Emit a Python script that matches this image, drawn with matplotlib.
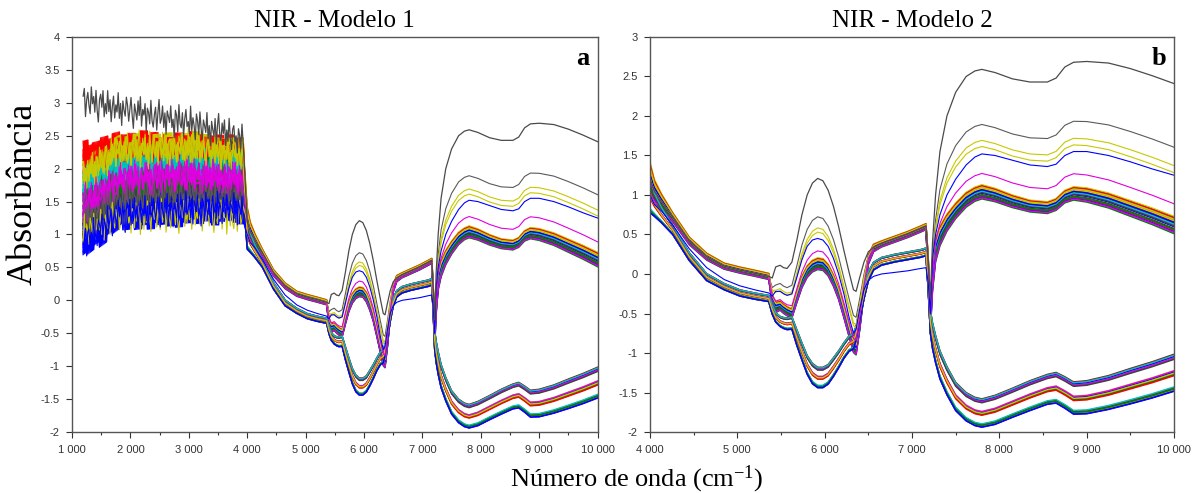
import numpy as np
import matplotlib
matplotlib.use("Agg")
import matplotlib.pyplot as plt
from matplotlib.ticker import MultipleLocator, FuncFormatter

# wavenumber grid of the smooth part (4000 - 10000 cm-1)
HI_WN = [4000, 4050, 4130, 4260, 4450, 4650, 4850, 5030, 5200, 5360,
         5400, 5440, 5490, 5530, 5570, 5625, 5680, 5740, 5800, 5860,
         5920, 5980, 6040, 6100, 6160, 6220, 6280, 6330, 6360, 6400,
         6450, 6500, 6560, 6650, 6800, 6950, 7100, 7160, 7185, 7210,
         7235, 7270, 7320, 7400, 7500, 7620, 7720, 7800, 7950, 8150,
         8350, 8550, 8650, 8750, 8850, 9000, 9250, 9500, 9750, 10000]

# upper family (centre of bundle) and its width
P_BULK = [1.20, 1.05, 0.92, 0.72, 0.42, 0.22, 0.10, 0.05, 0.01, -0.03,
          -0.32, -0.42, -0.40, -0.44, -0.47, -0.50, -0.30, -0.10, 0.03, 0.10,
          0.13, 0.12, 0.05, -0.08, -0.25, -0.48, -0.72, -0.92, -0.95, -0.65,
          -0.20, 0.18, 0.33, 0.38, 0.44, 0.50, 0.57, 0.60, 0.10, -0.55,
          -0.05, 0.30, 0.48, 0.65, 0.80, 0.94, 1.01, 1.04, 1.00, 0.92,
          0.86, 0.84, 0.88, 0.98, 1.02, 1.00, 0.93, 0.83, 0.73, 0.62]
P_SPREAD = [0.45, 0.30, 0.20, 0.12, 0.10, 0.09, 0.08, 0.08, 0.08, 0.08,
            0.12, 0.14, 0.12, 0.12, 0.12, 0.12, 0.14, 0.15, 0.15, 0.15,
            0.15, 0.15, 0.15, 0.15, 0.15, 0.15, 0.15, 0.15, 0.15, 0.15,
            0.14, 0.12, 0.10, 0.08, 0.08, 0.08, 0.08, 0.08, 0.30, 0.40,
            0.35, 0.30, 0.25, 0.22, 0.20, 0.19, 0.18, 0.18, 0.17, 0.16,
            0.15, 0.15, 0.15, 0.16, 0.17, 0.18, 0.19, 0.20, 0.21, 0.22]

# lower (inverted) family
N_BULK = [1.00, 0.88, 0.75, 0.56, 0.22, -0.04, -0.16, -0.24, -0.28, -0.31,
          -0.45, -0.55, -0.60, -0.62, -0.63, -0.62, -0.80, -0.98, -1.15, -1.26,
          -1.31, -1.31, -1.27, -1.18, -1.08, -0.97, -0.88, -0.85, -0.75, -0.52,
          -0.25, -0.03, 0.10, 0.16, 0.20, 0.23, 0.26, 0.28, -0.10, -0.60,
          -0.78, -0.95, -1.15, -1.35, -1.55, -1.68, -1.74, -1.76, -1.72, -1.63,
          -1.54, -1.46, -1.44, -1.50, -1.57, -1.56, -1.50, -1.42, -1.34, -1.25]
N_SPREAD = [0.45, 0.30, 0.20, 0.12, 0.10, 0.09, 0.08, 0.08, 0.08, 0.08,
            0.12, 0.12, 0.13, 0.14, 0.15, 0.16, 0.20, 0.22, 0.24, 0.26,
            0.26, 0.26, 0.25, 0.24, 0.22, 0.20, 0.20, 0.20, 0.18, 0.16,
            0.14, 0.12, 0.10, 0.10, 0.10, 0.10, 0.10, 0.10, 0.20, 0.30,
            0.33, 0.35, 0.36, 0.36, 0.36, 0.36, 0.36, 0.36, 0.37, 0.37,
            0.38, 0.38, 0.39, 0.40, 0.41, 0.42, 0.43, 0.45, 0.46, 0.47]

# the two lone spectra
BLACK_HI = [1.20, 1.05, 0.92, 0.72, 0.42, 0.22, 0.10, 0.05, 0.01, -0.03,
            -0.05, 0.09, 0.11, 0.08, 0.07, 0.15, 0.42, 0.75, 1.00, 1.15,
            1.21, 1.18, 1.06, 0.86, 0.60, 0.30, 0.02, -0.20, -0.22, -0.05,
            0.15, 0.28, 0.34, 0.39, 0.45, 0.51, 0.58, 0.61, 0.20, -0.30,
            0.40, 1.00, 1.55, 2.00, 2.30, 2.50, 2.57, 2.59, 2.55, 2.47,
            2.43, 2.43, 2.48, 2.62, 2.68, 2.69, 2.67, 2.60, 2.51, 2.41]
BLUE_HI = [1.00, 0.88, 0.80, 0.62, 0.32, 0.08, -0.07, -0.15, -0.20, -0.24,
           -0.28, -0.22, -0.22, -0.25, -0.27, -0.25, -0.05, 0.18, 0.35, 0.43,
           0.45, 0.43, 0.35, 0.20, 0.00, -0.25, -0.55, -0.75, -0.70, -0.45,
           -0.20, -0.08, -0.03, 0.00, 0.02, 0.04, 0.07, 0.08, -0.10, -0.50,
           0.20, 0.50, 0.75, 1.00, 1.20, 1.38, 1.48, 1.52, 1.50, 1.44,
           1.38, 1.36, 1.39, 1.50, 1.55, 1.55, 1.50, 1.42, 1.33, 1.25]

# where each bundle spectrum sits inside its bundle (-0.5 bottom, 0.5 top)
P_POS = [0.45, -0.30, 0.10, -0.45, 0.30, -0.10, 0.50, -0.20, 0.20, -0.50,
         0.38, 0.00, -0.38, 0.25, -0.05, 0.42, -0.25, 0.05, -0.42, 0.15, 0.33]
N_POS = [0.50, -0.02, -0.45, 0.42, 0.04, -0.50, 0.46, -0.06, -0.40, 0.38,
         0.00, -0.48, 0.44, 0.06, -0.42, 0.48, -0.04, -0.38, 0.40, 0.02,
         -0.46, 0.36, -0.08, -0.44, 0.47, 0.05, -0.49, -0.01]

# outliers between the bulk and the black spectrum (fraction of the way)
OUT_FRAC = [0.55, 0.42, 0.37, 0.15]
OUT_COLORS = ["#5a5a5a", "#c8c800", "#c8c800", "#e000e0"]

# colour cycle: gray, red, green, cyan, magenta, blue, yellow
COLORS = ["#404040", "#ff0000", "#008000", "#00c0c0", "#e000e0", "#0000ff", "#c8c800"]

# noisy region (1190 - 3930 cm-1), mean level per colour at anchor wavenumbers
LO_WN = np.arange(1190, 3935, 20)
LO_ANCHOR_WN = [1190, 1800, 3000, 3930]
LO_LEVELS = [[1.10, 1.50, 1.65, 1.60],
             [2.15, 2.30, 2.30, 2.25],
             [1.50, 1.80, 1.95, 2.00],
             [1.75, 2.05, 2.10, 2.05],
             [1.40, 1.80, 1.90, 1.85],
             [0.90, 1.30, 1.40, 1.40],
             [1.90, 2.25, 2.30, 2.20]]
LO_BLACK = [3.05, 2.90, 2.70, 2.45]
LO_BLUE = [0.90, 1.30, 1.40, 1.40]
LO_OUT = [[1.20, 1.55, 1.60, 1.55], [1.90, 2.30, 2.35, 2.25],
          [1.05, 1.25, 1.30, 1.25], [1.50, 1.85, 1.90, 1.85]]
NOISE_AMP = 0.28
NOISE = [0.31, -0.54, 0.12, 0.77, -0.21, -0.88, 0.45, 0.03, -0.39, 0.66, -0.12, 0.91,
         -0.67, 0.24, -0.05, 0.58, -0.93, 0.36, 0.14, -0.47, 0.82, -0.28, -0.61, 0.07,
         0.49, -0.74, 0.19, 0.95, -0.33, -0.08, 0.63, -0.52, 0.28, -0.86, 0.41, 0.11,
         -0.19, 0.72, -0.44, 0.02, -0.97, 0.53, 0.26, -0.63, 0.87, -0.15, -0.36, 0.47,
         -0.79, 0.16, 0.68, -0.24, 0.05, -0.58, 0.92, -0.41, 0.33, -0.07, -0.83, 0.59,
         0.21, -0.49, 0.76, -0.11, -0.69, 0.38, 0.09, -0.26, 0.84, -0.55, 0.17, -0.91,
         0.44, 0.01, -0.34, 0.65, -0.71, 0.29, 0.98, -0.18, -0.46, 0.52, -0.03, 0.73,
         -0.64, 0.22, -0.38, 0.89, -0.13, -0.77, 0.35, 0.57, -0.29, 0.06, -0.85, 0.48,
         0.13, -0.57, 0.79, -0.22, -0.01, 0.61, -0.95, 0.27, 0.42, -0.68, 0.15, -0.31,
         0.86, -0.45, 0.08, -0.81, 0.54, 0.23, -0.16, 0.71, -0.59, 0.37, -0.04, -0.73,
         0.94, -0.35, 0.18, 0.62, -0.89, 0.04, 0.46, -0.23, -0.66, 0.81, -0.09, 0.32,
         -0.51, 0.69, -0.37, -0.99, 0.25, 0.55, -0.14, 0.78, -0.62, 0.11, -0.42, 0.85,
         -0.27, 0.39, -0.78, 0.06, 0.64, -0.53, 0.20, -0.17, 0.90, -0.48, 0.34, -0.84,
         0.50, 0.00, -0.30, 0.74]

TITLES = ["NIR - Modelo 1", "NIR - Modelo 2"]
PANEL_TAGS = ["a", "b"]
XLIMS = [(1000, 10000), (4000, 10000)]
YLIMS = [(-2, 4), (-2, 3)]


def spectrum(lo_anchor, shift, hi):
    lo_mean = np.interp(LO_WN, LO_ANCHOR_WN, lo_anchor)
    idx = (np.arange(len(LO_WN)) + shift) % len(NOISE)
    lo = lo_mean + NOISE_AMP * np.array(NOISE)[idx]
    return np.concatenate([LO_WN, HI_WN]), np.concatenate([lo, hi])


# build every spectrum once
curves = []
hi_p = np.array(P_BULK)
hi_n = np.array(N_BULK)
k = 0
for i, d in enumerate(P_POS):
    x, y = spectrum(LO_LEVELS[i % 7], k * 23, hi_p + d * np.array(P_SPREAD))
    curves.append((x, y, COLORS[i % 7], 1.0))
    k += 1
for i, d in enumerate(N_POS):
    x, y = spectrum(LO_LEVELS[i % 7], k * 23, hi_n + d * np.array(N_SPREAD))
    curves.append((x, y, COLORS[i % 7], 1.0))
    k += 1
black = np.array(BLACK_HI)
for f, c, lo in zip(OUT_FRAC, OUT_COLORS, LO_OUT):
    x, y = spectrum(lo, k * 23, hi_p + f * (black - hi_p))
    curves.append((x, y, c, 0.8))
    k += 1
x, y = spectrum(LO_BLUE, k * 23, np.array(BLUE_HI))
curves.append((x, y, "#0000ff", 0.8))
k += 1
x, y = spectrum(LO_BLACK, k * 23, black)
curves.append((x, y, "#4a4a4a", 0.9))

plt.rcParams["font.family"] = ["Liberation Sans", "DejaVu Sans"]
plt.rcParams["mathtext.fontset"] = "custom"
plt.rcParams["mathtext.rm"] = "Liberation Serif"
plt.rcParams["mathtext.it"] = "Liberation Serif:italic"

fig = plt.figure(figsize=(11.93, 4.93), dpi=100)
axes = [fig.add_axes([0.0604, 0.1237, 0.4405, 0.8013]),
        fig.add_axes([0.5448, 0.1237, 0.4393, 0.8013])]

for j, ax in enumerate(axes):
    for x, y, c, lw in curves:
        ax.plot(x, y, color=c, lw=lw)
    ax.set_xlim(*XLIMS[j])
    ax.set_ylim(*YLIMS[j])
    ax.xaxis.set_major_locator(MultipleLocator(1000))
    ax.xaxis.set_minor_locator(MultipleLocator(500))
    ax.yaxis.set_major_locator(MultipleLocator(0.5))
    ax.xaxis.set_major_formatter(FuncFormatter(lambda v, _: f"{int(v):,}".replace(",", " ")))
    ax.yaxis.set_major_formatter(FuncFormatter(lambda v, _: f"{v:g}"))
    ax.tick_params(which="major", direction="out", length=4, width=0.8,
                   labelsize=8, colors="#333333", pad=5)
    ax.tick_params(which="minor", direction="out", length=2.5, width=0.8, colors="#333333")
    for s in ax.spines.values():
        s.set_color("#555555")
        s.set_linewidth(1.0)
    ax.set_title(TITLES[j], family="Liberation Serif", fontsize=18, pad=7)
    ax.text(0.985, 0.975, PANEL_TAGS[j], transform=ax.transAxes, ha="right", va="top",
            family="Liberation Serif", fontweight="bold", fontsize=19)

fig.text(0.019, 0.607, "Absorbância", rotation=90, ha="center", va="center",
         family="Liberation Serif", fontsize=26)
fig.text(0.534, 0.028, "Número de onda (cm$^{-1}$)", ha="center", va="center",
         family="Liberation Serif", fontsize=19)

fig.savefig("out.png", dpi=100)
